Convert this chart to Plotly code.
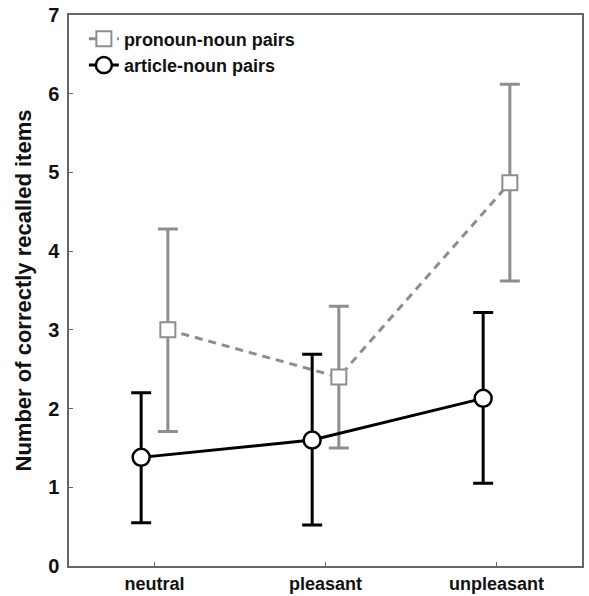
import plotly.graph_objects as go

categories = ["neutral", "pleasant", "unpleasant"]

pronoun_mean = [3.00, 2.40, 4.87]
pronoun_upper = [4.28, 3.30, 6.12]
pronoun_lower = [1.71, 1.50, 3.62]

article_mean = [1.38, 1.60, 2.13]
article_upper = [2.20, 2.69, 3.22]
article_lower = [0.55, 0.52, 1.05]

y_ticks = [0, 1, 2, 3, 4, 5, 6, 7]

offset = 0.078
idx = list(range(len(categories)))
x_pron = [i + offset for i in idx]
x_art = [i - offset for i in idx]

grey = "#8e8e8e"
font_family = "Liberation Sans, Arial, sans-serif"

fig = go.Figure()

fig.add_trace(go.Scatter(
    x=x_pron, y=pronoun_mean, name="pronoun-noun pairs",
    mode="lines+markers",
    line=dict(color=grey, width=3, dash="8px,6px"),
    marker=dict(symbol="square", size=15, color="white", line=dict(color=grey, width=2)),
    error_y=dict(type="data", symmetric=False,
                 array=[u - m for u, m in zip(pronoun_upper, pronoun_mean)],
                 arrayminus=[m - l for m, l in zip(pronoun_mean, pronoun_lower)],
                 color=grey, thickness=3, width=10),
))

fig.add_trace(go.Scatter(
    x=x_art, y=article_mean, name="article-noun pairs",
    mode="lines+markers",
    line=dict(color="black", width=3),
    marker=dict(symbol="circle", size=17, color="white", line=dict(color="black", width=2.5)),
    error_y=dict(type="data", symmetric=False,
                 array=[u - m for u, m in zip(article_upper, article_mean)],
                 arrayminus=[m - l for m, l in zip(article_mean, article_lower)],
                 color="black", thickness=3, width=10),
))

fig.update_layout(
    width=589, height=596,
    margin=dict(l=69, r=7, t=15, b=30),
    plot_bgcolor="white", paper_bgcolor="white",
    font=dict(family=font_family, color="black", size=18, weight="bold"),
    showlegend=True,
    legend=dict(x=0.029, y=0.99, xanchor="left", yanchor="top",
                bgcolor="rgba(0,0,0,0)", font=dict(size=18, weight="bold", color="#111"),
                tracegroupgap=0, itemwidth=30),
    xaxis=dict(range=[-0.5, 2.5], tickvals=idx, ticktext=categories,
               showline=True, mirror=True, linecolor="#666", linewidth=1.5,
               ticks="inside", ticklen=4, tickcolor="#666",
               showgrid=False, zeroline=False, automargin=False,
               ticklabelstandoff=1,
               tickfont=dict(size=18, weight="bold", color="#111")),
    yaxis=dict(range=[0, 7], tickvals=y_ticks,
               showline=True, mirror=True, linecolor="#666", linewidth=1.5,
               ticks="inside", ticklen=4, tickcolor="#666",
               showgrid=False, zeroline=False, automargin=False,
               ticklabelstandoff=4,
               tickfont=dict(size=20, weight="bold", color="#111"),
               title=dict(text="Number of correctly recalled items",
                          font=dict(size=22, weight="bold", color="#111"), standoff=10)),
)

fig.write_html("out.html", config={"displayModeBar": False},
               post_script="document.body.style.margin='0';")
